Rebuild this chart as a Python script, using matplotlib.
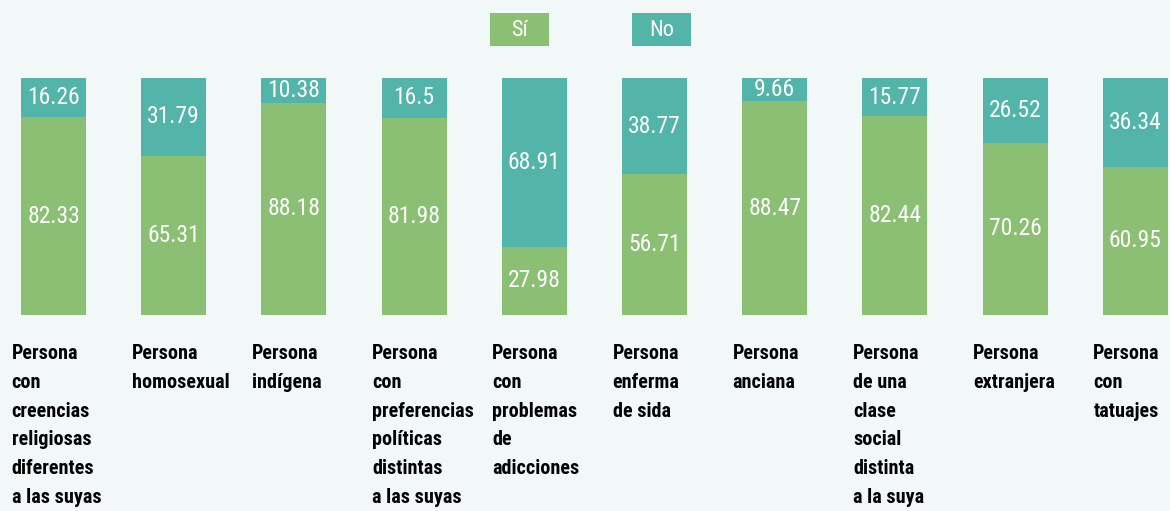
import matplotlib
matplotlib.use("Agg")
import matplotlib.pyplot as plt
from matplotlib.patches import Rectangle
from matplotlib.transforms import blended_transform_factory
from matplotlib import font_manager
import numpy as np

categorias = ["Persona\ncon\ncreencias\nreligiosas\ndiferentes\na las suyas",
              "Persona\nhomosexual",
              "Persona\nindígena",
              "Persona\ncon\npreferencias\npolíticas\ndistintas\na las suyas",
              "Persona\ncon\nproblemas\nde\nadicciones",
              "Persona\nenferma\nde sida",
              "Persona\nanciana",
              "Persona\nde una\nclase\nsocial\ndistinta\na la suya",
              "Persona\nextranjera",
              "Persona\ncon\ntatuajes"]
si = [82.33, 65.31, 88.18, 81.98, 27.98, 56.71, 88.47, 82.44, 70.26, 60.95]
no = [16.26, 31.79, 10.38, 16.5, 68.91, 38.77, 9.66, 15.77, 26.52, 36.34]

bg = "#f2f8f8"
verde = "#8bbf74"
teal = "#53b4aa"

installed = {f.name for f in font_manager.fontManager.ttflist}
fam = [f for f in ["Liberation Sans Narrow", "DejaVu Sans Condensed", "Roboto Condensed",
                   "Roboto", "Liberation Sans", "DejaVu Sans"] if f in installed]
plt.rcParams["font.family"] = fam

fig = plt.figure(figsize=(11.7, 5.11), dpi=100, facecolor=bg)
W, H = 1170, 511
ax = fig.add_axes([0, (H - 315) / H, 1, 237 / H])
ax.set_facecolor(bg)

step = 120.2
x = np.arange(len(si))
tot = np.array(si) + np.array(no)
h_si = np.array(si) / tot * 100
h_no = np.array(no) / tot * 100

ax.bar(x, h_si, width=65 / step, color=verde, linewidth=0)
ax.bar(x, h_no, bottom=h_si, width=65 / step, color=teal, linewidth=0)

for i in range(len(si)):
    ax.text(x[i], h_si[i] / 2, f"{si[i]:g}", ha="center", va="center",
            color="white", fontsize=17)
    ax.text(x[i], h_si[i] + h_no[i] / 2, f"{no[i]:g}", ha="center", va="center",
            color="white", fontsize=17)

ax.set_xlim(-53.5 / step, (W - 53.5) / step)
ax.set_ylim(0, 100)
ax.axis("off")

tr = blended_transform_factory(ax.transData, fig.transFigure)
for i, lab in enumerate(categorias):
    ax.text(x[i] - 42 / step, (H - 344) / H, lab, transform=tr, ha="left", va="top",
            fontsize=14.5, fontweight="bold", color="black", linespacing=1.65)

# leyenda
for lx, txt, c in [(490, "Sí", verde), (632, "No", teal)]:
    fig.patches.append(Rectangle((lx / W, (H - 46) / H), 59 / W, 33 / H,
                                 transform=fig.transFigure, color=c, linewidth=0))
    fig.text((lx + 29.5) / W, (H - 30) / H, txt, ha="center", va="center",
             color="white", fontsize=16)

fig.savefig("out.png", dpi=100, facecolor=bg)
